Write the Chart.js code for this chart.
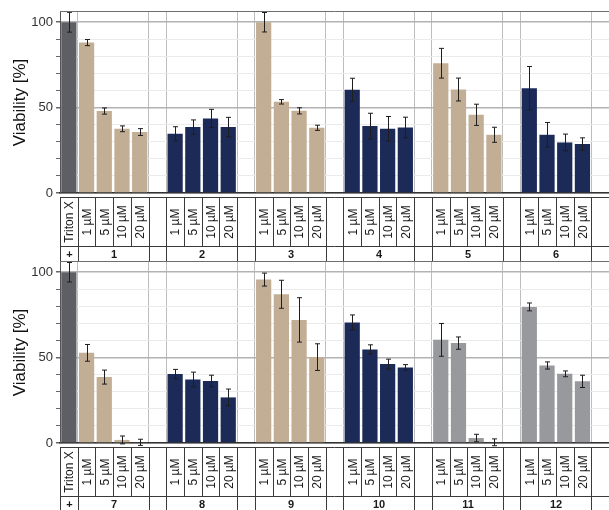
<!DOCTYPE html>
<html>
<head>
<meta charset="utf-8">
<script src="https://cdn.jsdelivr.net/npm/chart.js@4.4.1/dist/chart.umd.min.js"></script>
<style>
  html, body { margin: 0; padding: 0; background: #fff; overflow: hidden; }
  canvas { position: absolute; left: 0; }
  #top-chart { top: 0; }
  #bottom-chart { top: 250px; }
</style>
</head>
<body>
<canvas id="top-chart" width="609" height="262"></canvas>
<canvas id="bottom-chart" width="609" height="262"></canvas>
<script>
// --- data ---
const doseLabels = ['1 µM', '5 µM', '10 µM', '20 µM'];
const controlLabel = 'Triton X';
const controlGroup = '+';
const yTickValues = [0, 10, 20, 30, 40, 50, 60, 70, 80, 90, 100];
const yLabelledTicks = [0, 50, 100];

const topGroupNames = ['1', '2', '3', '4', '5', '6'];
const topControl = 100;
const topControlErr = 5.8;
const topMeans = [
    88.1, 48.0, 37.6, 35.7,   // 1
    34.7, 38.6, 43.7, 38.6,   // 2
    100.0, 53.4, 48.1, 38.2,  // 3
    60.4, 39.2, 37.6, 38.4,   // 4
    76.0, 60.6, 45.8, 34.1,   // 5
    61.4, 34.1, 29.6, 28.7    // 6
];
const topErrors = [
    1.8, 1.8, 1.7, 2.0,
    4.1, 4.2, 5.3, 5.7,
    5.7, 1.3, 1.8, 1.5,
    6.8, 7.5, 7.2, 6.0,
    8.7, 6.7, 6.2, 4.4,
    12.7, 7.2, 4.9, 3.6
];

const bottomGroupNames = ['7', '8', '9', '10', '11', '12'];
const bottomControl = 100;
const bottomControlErr = 5.7;
const bottomMeans = [
    52.8, 38.6, 1.8, 0.4,     // 7
    40.4, 37.2, 36.3, 26.7,   // 8
    95.7, 87.1, 72.1, 50.3,   // 9
    70.6, 54.8, 46.2, 44.2,   // 10
    60.4, 58.5, 2.9, 0.4,     // 11
    79.7, 45.4, 40.5, 36.1    // 12
];
const bottomErrors = [
    4.9, 4.1, 2.3, 1.8,
    2.7, 4.3, 3.4, 4.9,
    3.8, 8.2, 13.0, 7.8,
    4.4, 2.7, 2.9, 1.7,
    9.6, 3.6, 2.2, 2.0,
    2.3, 2.1, 1.7, 3.6
];

// --- style ---
const TRITON = '#5d5f64';
const TAN = '#c2ad95';
const NAVY = '#1c2a58';
const GREY = '#98999d';
const topGroupColors = [TAN, NAVY, TAN, NAVY, TAN, NAVY];
const bottomGroupColors = [TAN, NAVY, TAN, NAVY, GREY, GREY];
const FONT = '"Liberation Sans", Arial, sans-serif';

function buildPanel(groupNames, control, controlErr, means, errors, groupColors) {
    const labels = [controlLabel];
    const values = [control];
    const errs = [controlErr];
    const colors = [TRITON];
    const spans = [{ name: controlGroup, start: 0, end: 0 }];
    groupNames.forEach((name, g) => {
        const start = labels.length;
        doseLabels.forEach((dose, d) => {
            labels.push(dose);
            values.push(means[g * 4 + d]);
            errs.push(errors[g * 4 + d]);
            colors.push(groupColors[g]);
        });
        spans.push({ name: name, start: start, end: labels.length - 1 });
        // empty slot between groups
        spans.push({ name: '', start: labels.length, end: labels.length });
        labels.push('');
        values.push(null);
        errs.push(null);
        colors.push('rgba(0,0,0,0)');
    });
    const boundaries = new Set(spans.map(s => s.start).filter(i => i > 0));
    return { labels, values, errs, colors, spans, boundaries };
}

const errorBarPlugin = {
    id: 'errorBars',
    afterDatasetsDraw(chart, args, opts) {
        const { ctx, scales: { x, y } } = chart;
        const data = chart.data.datasets[0].data;
        ctx.save();
        ctx.strokeStyle = '#1e1e1e';
        ctx.lineWidth = 1;
        opts.errors.forEach((e, i) => {
            if (e == null || data[i] == null) return;
            const cx = Math.round(x.getPixelForValue(i)) + 0.5;
            const y1 = y.getPixelForValue(data[i] + e);
            const y2 = y.getPixelForValue(data[i] - e);
            ctx.beginPath();
            ctx.moveTo(cx, y1); ctx.lineTo(cx, y2);
            ctx.moveTo(cx - 2.5, y1); ctx.lineTo(cx + 2.5, y1);
            ctx.moveTo(cx - 2.5, y2); ctx.lineTo(cx + 2.5, y2);
            ctx.stroke();
        });
        ctx.restore();
    }
};

const tablePlugin = {
    id: 'doseTable',
    afterDraw(chart, args, opts) {
        const { ctx, chartArea: area, scales: { x } } = chart;
        const labels = chart.data.labels;
        const half = (x.getPixelForValue(1) - x.getPixelForValue(0)) / 2;
        const edge = i => Math.round(x.getPixelForValue(i) - half) + 0.5;
        const top = Math.round(area.bottom) + 4.5;
        const mid = Math.round(area.bottom) + 53.5;
        const bottom = Math.round(area.bottom) + 68.5;

        ctx.save();
        // frame line on top of plot
        ctx.strokeStyle = '#6e6e6e';
        ctx.lineWidth = 1;
        ctx.beginPath();
        ctx.moveTo(area.left, Math.round(area.top) - 0.5);
        ctx.lineTo(area.right, Math.round(area.top) - 0.5);
        ctx.stroke();

        ctx.strokeStyle = '#3a3a3a';
        ctx.beginPath();
        [top, mid, bottom].forEach(yy => {
            ctx.moveTo(area.left, yy);
            ctx.lineTo(area.right, yy);
        });
        for (let i = 0; i <= labels.length; i++) {
            ctx.moveTo(edge(i), top);
            ctx.lineTo(edge(i), mid);
        }
        opts.spans.forEach(s => {
            ctx.moveTo(edge(s.start), mid);
            ctx.lineTo(edge(s.start), bottom);
        });
        ctx.stroke();

        ctx.fillStyle = '#1a1a1a';
        ctx.textAlign = 'center';
        ctx.textBaseline = 'middle';
        ctx.font = '12px ' + FONT;
        labels.forEach((label, i) => {
            if (!label) return;
            ctx.save();
            ctx.translate(x.getPixelForValue(i) + 1, (top + mid) / 2);
            ctx.rotate(-Math.PI / 2);
            ctx.fillText(label, 0, 0);
            ctx.restore();
        });
        ctx.font = 'bold 11px ' + FONT;
        opts.spans.forEach(s => {
            if (!s.name) return;
            ctx.fillText(s.name, (edge(s.start) + edge(s.end + 1)) / 2, (mid + bottom) / 2 + 1);
        });
        ctx.restore();
    }
};

function drawPanel(canvasId, panel) {
    const ctx = document.getElementById(canvasId).getContext('2d');
    return new Chart(ctx, {
        type: 'bar',
        data: {
            labels: panel.labels,
            datasets: [{
                data: panel.values,
                backgroundColor: panel.colors,
                borderWidth: 0,
                barPercentage: 0.86,
                categoryPercentage: 1
            }]
        },
        plugins: [errorBarPlugin, tablePlugin],
        options: {
            responsive: false,
            animation: false,
            layout: { padding: { top: 12, right: 0, bottom: 69, left: 0 } },
            plugins: {
                legend: { display: false },
                tooltip: { enabled: false },
                errorBars: { errors: panel.errs },
                doseTable: { spans: panel.spans }
            },
            scales: {
                x: {
                    offset: true,
                    ticks: { display: false },
                    grid: {
                        offset: true,
                        drawTicks: false,
                        color: c => panel.boundaries.has(c.index) ? '#bdbdbd' : 'rgba(0,0,0,0)'
                    },
                    border: { color: '#333', width: 1.5 },
                    afterFit: s => { s.height = 0; }
                },
                y: {
                    min: 0,
                    max: 106,
                    afterBuildTicks: s => { s.ticks = yTickValues.map(v => ({ value: v })); },
                    ticks: {
                        autoSkip: false,
                        padding: 3,
                        color: '#333',
                        font: { family: FONT, size: 13 },
                        callback: v => yLabelledTicks.includes(v) ? v : ''
                    },
                    grid: {
                        color: c => c.tick && yLabelledTicks.includes(c.tick.value) ? '#b3b3b3' : '#ebebeb',
                        lineWidth: c => c.tick && yLabelledTicks.includes(c.tick.value) ? 1.5 : 1,
                        tickColor: '#666',
                        tickLength: 4
                    },
                    border: { color: '#555' },
                    title: {
                        display: true,
                        text: 'Viability [%]',
                        color: '#111',
                        font: { family: FONT, size: 17 },
                        padding: { top: 10, bottom: 0 }
                    },
                    afterFit: s => { s.width = 60; }
                }
            }
        }
    });
}

const topPanel = buildPanel(topGroupNames, topControl, topControlErr, topMeans, topErrors, topGroupColors);
const bottomPanel = buildPanel(bottomGroupNames, bottomControl, bottomControlErr, bottomMeans, bottomErrors, bottomGroupColors);
drawPanel('top-chart', topPanel);
drawPanel('bottom-chart', bottomPanel);
</script>
</body>
</html>
